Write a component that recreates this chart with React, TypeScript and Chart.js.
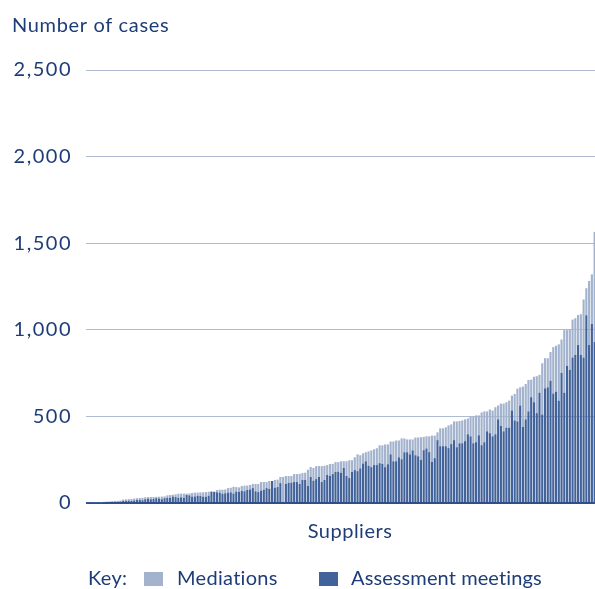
import React, { useEffect, useRef } from 'react';
import { Chart, registerables } from 'chart.js';

Chart.register(...registerables);

// Assessment meetings per supplier (dark, bottom of each stack)
const assessmentMeetings = [
  1, 2, 2, 3, 4, 4, 5, 6, 6, 6,
  7, 8, 9, 12, 12, 14, 12, 15, 17, 18,
  16, 22, 25, 22, 24, 28, 26, 22, 28, 30,
  30, 37, 34, 31, 33, 30, 46, 44, 37, 38,
  42, 40, 37, 36, 42, 66, 64, 62, 60, 54,
  56, 60, 62, 55, 66, 65, 70, 68, 76, 78,
  86, 68, 63, 72, 76, 86, 82, 127, 88, 92,
  115, 0, 110, 116, 118, 121, 121, 110, 133, 133,
  98, 150, 129, 138, 150, 121, 133, 162, 156, 167,
  179, 181, 175, 202, 156, 144, 179, 190, 184, 200,
  228, 241, 215, 207, 219, 219, 230, 226, 207, 224,
  281, 241, 241, 264, 253, 293, 293, 281, 304, 276,
  270, 248, 305, 315, 294, 237, 259, 363, 328, 328,
  328, 317, 340, 363, 322, 345, 345, 357, 397, 385,
  345, 351, 391, 334, 351, 414, 403, 385, 397, 483,
  445, 414, 435, 435, 534, 477, 471, 563, 439, 483,
  529, 611, 582, 519, 637, 511, 662, 668, 706, 632,
  643, 591, 752, 637, 792, 769, 840, 855, 912, 855,
  840, 1084, 912, 1034, 930,
];

// Mediations per supplier (light, stacked on top)
const mediations = [
  0, 0, 1, 1, 1, 2, 2, 2, 3, 5,
  5, 4, 5, 8, 9, 8, 11, 11, 11, 11,
  14, 11, 9, 13, 11, 8, 10, 15, 10, 14,
  16, 11, 16, 23, 21, 24, 8, 11, 21, 22,
  18, 21, 25, 27, 23, 0, 2, 13, 17, 23,
  22, 26, 26, 39, 26, 25, 28, 32, 25, 26,
  24, 42, 47, 49, 45, 35, 45, 0, 45, 43,
  35, 150, 46, 40, 38, 46, 46, 58, 40, 42,
  94, 58, 73, 75, 63, 92, 82, 57, 69, 59,
  57, 55, 66, 39, 85, 103, 68, 74, 97, 76,
  59, 52, 83, 97, 91, 97, 103, 107, 131, 114,
  74, 114, 120, 97, 120, 80, 74, 86, 63, 102,
  108, 132, 77, 70, 91, 152, 130, 45, 103, 103,
  109, 131, 114, 108, 149, 128, 132, 126, 91, 115,
  155, 155, 115, 189, 178, 115, 137, 149, 156, 80,
  129, 160, 147, 156, 86, 153, 189, 105, 233, 204,
  181, 101, 147, 213, 103, 296, 174, 168, 166, 268,
  265, 325, 192, 361, 206, 234, 219, 212, 173, 235,
  335, 156, 370, 286, 635,
];

const suppliers = assessmentMeetings.map((_, i) => `Supplier ${i + 1}`);
const yTickValues = [0, 500, 1000, 1500, 2000, 2500];
const yAxisTitle = 'Number of cases';
const xAxisTitle = 'Suppliers';
const legendKey = 'Key:';
const seriesNames = ['Mediations', 'Assessment meetings'];

const LIGHT = '#a3b3cd';
const DARK = '#42629a';
const TEXT = '#1e3c78';
const GRID = '#aebbd2';
const ZERO = '#2f4f8c';
const FONT = 'Lato, "DejaVu Sans", sans-serif';

const annotations = {
  id: 'annotations',
  beforeDraw(chart: any) {
    // wider, Futura-like tracking for the tick labels
    (chart.ctx as any).letterSpacing = '1.5px';
  },
  afterDraw(chart: any) {
    const ctx = chart.ctx;
    ctx.save();
    ctx.fillStyle = TEXT;
    ctx.font = `20px ${FONT}`;
    ctx.textBaseline = 'alphabetic';
    ctx.textAlign = 'left';
    ctx.letterSpacing = '0.65px';
    ctx.fillText(yAxisTitle, 12, 32);
    ctx.letterSpacing = '0.5px';
    ctx.textAlign = 'center';
    ctx.fillText(xAxisTitle, 350, 538);
    ctx.textAlign = 'left';
    ctx.letterSpacing = '0.3px';
    ctx.fillText(legendKey, 88, 585);
    ctx.fillStyle = LIGHT;
    ctx.fillRect(144, 572, 19, 14);
    ctx.fillStyle = TEXT;
    ctx.fillText(seriesNames[0], 177, 585);
    ctx.fillStyle = DARK;
    ctx.fillRect(319, 572, 19, 14);
    ctx.fillStyle = TEXT;
    ctx.letterSpacing = '0.1px';
    ctx.fillText(seriesNames[1], 351, 585);
    ctx.restore();
    ctx.letterSpacing = '0px';
  },
};

export default function App() {
  const ref = useRef<HTMLCanvasElement | null>(null);

  useEffect(() => {
    if (!ref.current) return;
    const chart = new Chart(ref.current, {
      type: 'bar',
      data: {
        labels: suppliers,
        datasets: [
          {
            label: seriesNames[1],
            data: assessmentMeetings,
            backgroundColor: DARK,
            borderWidth: 0,
          },
          {
            label: seriesNames[0],
            data: mediations,
            backgroundColor: LIGHT,
            borderWidth: 0,
          },
        ],
      },
      options: {
        animation: false,
        responsive: false,
        maintainAspectRatio: false,
        layout: { padding: { top: 70, left: 0, right: 0, bottom: 0 } },
        datasets: { bar: { categoryPercentage: 1, barPercentage: 0.78 } } as any,
        plugins: {
          legend: { display: false },
          tooltip: { enabled: false },
          title: { display: false },
        },
        scales: {
          x: {
            stacked: true,
            grid: { display: false },
            border: { display: false },
            ticks: { display: false },
            afterFit: (s: any) => {
              s.height = 86;
            },
          },
          y: {
            stacked: true,
            min: 0,
            max: 2500,
            afterFit: (s: any) => {
              s.width = 86;
            },
            afterBuildTicks: (s: any) => {
              s.ticks = yTickValues.map((v) => ({ value: v }));
            },
            border: { display: false },
            grid: {
              drawTicks: false,
              color: (c: any) => (c.tick && c.tick.value === 0 ? ZERO : GRID),
              lineWidth: (c: any) => (c.tick && c.tick.value === 0 ? 2 : 1),
            },
            ticks: {
              padding: 14,
              color: TEXT,
              font: { family: FONT, size: 20 },
              callback: (v: any) => Number(v).toLocaleString('en-US'),
            },
          },
        },
      },
      plugins: [annotations],
    });
    return () => chart.destroy();
  }, []);

  return (
    <div
      style={{
        position: 'fixed',
        left: 0,
        top: 0,
        width: 595,
        height: 589,
        overflow: 'hidden',
        background: '#ffffff',
      }}
    >
      <canvas ref={ref} width={596} height={589} style={{ width: 596, height: 589, display: 'block' }} />
    </div>
  );
}
